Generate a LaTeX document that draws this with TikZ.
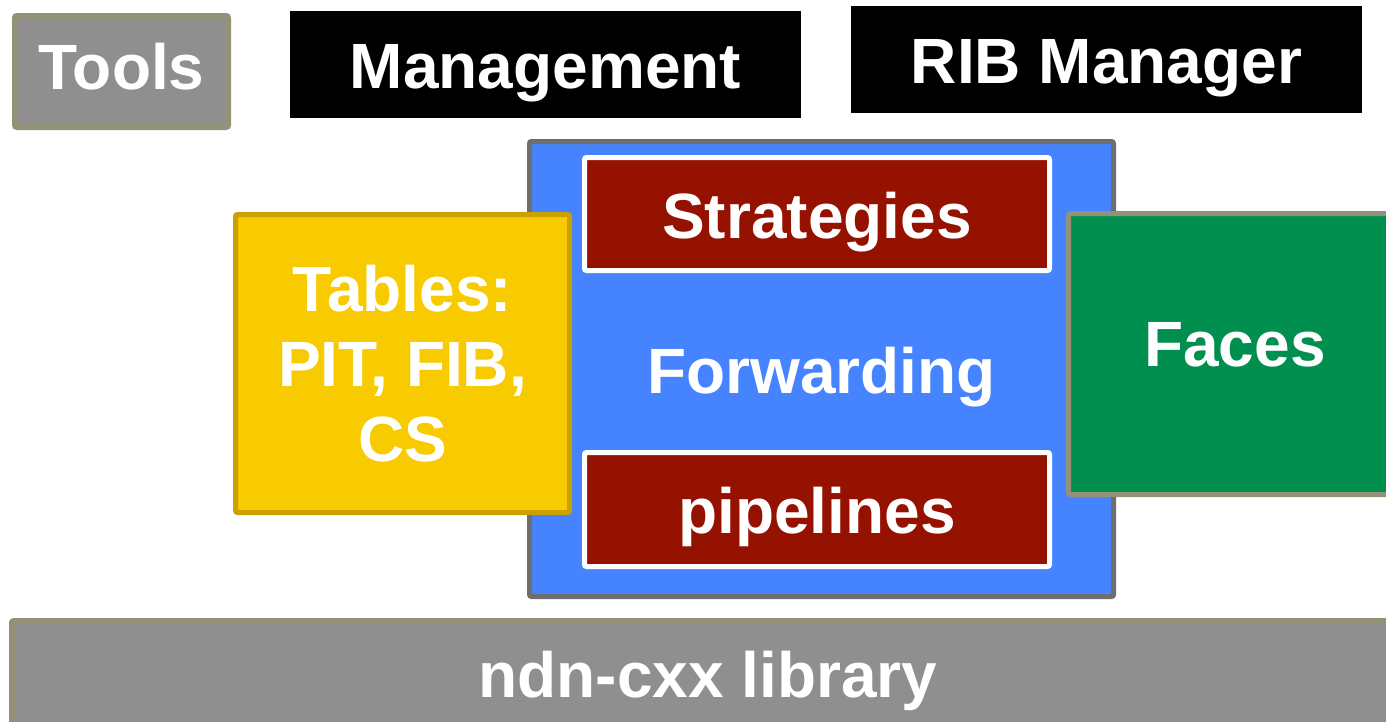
\documentclass[tikz,border=0pt]{standalone}
\usepackage{fontspec}
\setmainfont{Liberation Sans}
\definecolor{gfill}{HTML}{8F8F8F}
\definecolor{gline}{HTML}{939279}
\definecolor{bfill}{HTML}{4583FF}
\definecolor{bline}{HTML}{6E6E6E}
\definecolor{rfill}{HTML}{951100}
\definecolor{yfill}{HTML}{F8CA00}
\definecolor{yline}{HTML}{C9A200}
\definecolor{gnfill}{HTML}{008F4F}
\begin{document}
\begin{tikzpicture}[x=1pt,y=-1pt,
  box/.style={rectangle,rounded corners=2pt,inner sep=0pt,text=white,
    font=\fontsize{64}{75}\selectfont\bfseries,align=center},
  graybox/.style={box,fill=gfill,draw=gline,line width=6pt},
  blackbox/.style={box,fill=black,draw=none,rounded corners=0pt},
  bluebox/.style={box,fill=bfill,draw=bline,line width=5pt},
  redbox/.style={box,fill=rfill,draw=white,line width=5pt},
  yellowbox/.style={box,fill=yfill,draw=yline,line width=5pt},
  greenbox/.style={box,fill=gnfill,draw=gline,line width=5pt},
  one/.style={text height=48pt,text depth=0pt}
]
\useasboundingbox (0,0) rectangle (1386,721);
% top row
\node[graybox,text height=48pt,text depth=12pt,minimum width=213pt,minimum height=111pt] (tools) at (121.5,71.5) {Tools};
\node[blackbox,one,minimum width=511pt,minimum height=107pt] (mgmt) at (545.5,64.5) {Management};
\node[blackbox,one,minimum width=511pt,minimum height=107pt] (rib) at (1106.5,59.5) {RIB Manager};
% Forwarding
\node[bluebox,one,minimum width=584pt,minimum height=455pt] (fwd) at (821.5,369) {Forwarding};
\node[redbox,one,minimum width=465pt,minimum height=113pt] (strat) at (817,214) {Strategies};
\node[redbox,one,minimum width=465pt,minimum height=114pt] (pipe) at (817,509.5) {pipelines};
% Tables
\node[yellowbox,minimum width=334pt,minimum height=298pt] (tables) at (402.5,363.5) {Tables:\\PIT, FIB,\\CS};
% Faces
\node[greenbox,text height=48pt,text depth=24pt,minimum width=350pt,minimum height=281pt] (faces) at (1243.5,354) {\hspace*{-17pt}Faces};
% ndn-cxx
\node[graybox,one,minimum width=1420pt,minimum height=104pt] (ndn) at (722,673) {\hspace*{-28pt}ndn-cxx library};
\end{tikzpicture}
\end{document}
